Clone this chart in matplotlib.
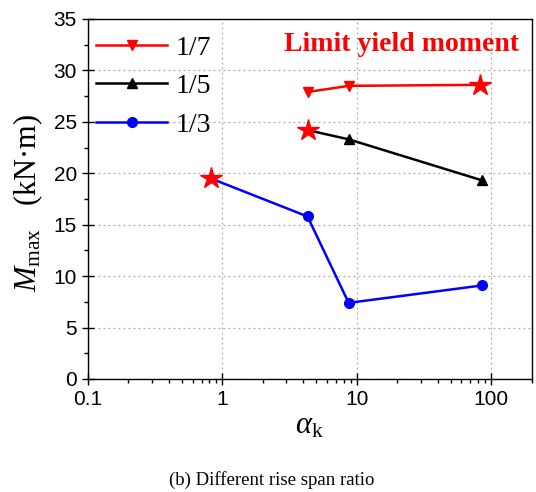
import matplotlib
matplotlib.use("Agg")
import matplotlib.pyplot as plt
from matplotlib.ticker import MultipleLocator, FixedLocator, NullFormatter

# Rise-span ratio series: alpha_k vs maximum moment
labels = ["1/7", "1/5", "1/3"]
colors = ["#ff0000", "#000000", "#0000ff"]
markers = ["v", "^", "o"]

alpha_17 = [4.3, 8.7, 83]
m_17 = [27.9, 28.5, 28.6]

alpha_15 = [4.3, 8.7, 86]
m_15 = [24.2, 23.3, 19.3]

alpha_13 = [0.82, 4.3, 8.7, 86]
m_13 = [19.5, 15.8, 7.4, 9.1]

# index of the limit-yield point in each series
limit_idx = [2, 0, 0]

xs = [alpha_17, alpha_15, alpha_13]
ys = [m_17, m_15, m_13]

serif = "Liberation Serif"
plt.rcParams["mathtext.fontset"] = "custom"
plt.rcParams["mathtext.rm"] = serif
plt.rcParams["mathtext.it"] = serif + ":italic"

fig = plt.figure(figsize=(5.36, 4.92), dpi=100)
ax = fig.add_axes([0.164, 0.2297, 0.828, 0.7317])

for x, y, lab, c, mk, li in zip(xs, ys, labels, colors, markers, limit_idx):
    ax.plot(x, y, color=c, lw=1.8, zorder=3)
    mx = [v for i, v in enumerate(x) if i != li]
    my = [v for i, v in enumerate(y) if i != li]
    ax.plot(mx, my, ls="none", marker=mk, color=c, ms=7, zorder=4)
    ax.plot([], [], color=c, lw=1.8, marker=mk, ms=7, label=lab)
    ax.plot([x[li]], [y[li]], ls="none", marker="*", color="#ff0000",
            ms=16, mec="#ff0000", zorder=5)

ax.set_xscale("log")
ax.set_xlim(0.1, 200)
ax.set_ylim(0, 35)
ax.yaxis.set_major_locator(MultipleLocator(5))
ax.yaxis.set_minor_locator(MultipleLocator(2.5))
ax.xaxis.set_major_locator(FixedLocator([0.1, 1, 10, 100]))
ax.set_xticklabels(["0.1", "1", "10", "100"])
ax.xaxis.set_minor_formatter(NullFormatter())

ax.grid(True, which="major", ls=(0, (1.5, 2.5)), color="#aaaaaa", lw=0.9)
ax.set_axisbelow(True)

ax.tick_params(which="both", top=False, right=False,
               labelsize=15, labelfontfamily="Liberation Sans", pad=4)
ax.tick_params(which="major", direction="inout", length=8, width=1)
ax.tick_params(which="minor", direction="out", length=3, width=1)
for s in ax.spines.values():
    s.set_linewidth(1.0)

ax.set_ylabel(r"$M_{\mathrm{max}}$   (kN·m)", fontsize=22, family=serif)
ax.yaxis.set_label_coords(-0.097, 0.489)
ax.set_xlabel(r"$\alpha_{\mathrm{k}}$", fontsize=22, family=serif, labelpad=2)

leg = ax.legend(loc="upper left", bbox_to_anchor=(0.0, 0.978), frameon=False,
                prop={"family": serif, "size": 20},
                handlelength=2.55, handletextpad=0.32, labelspacing=0.47,
                borderaxespad=0.0, borderpad=0.3)

ax.text(0.971, 0.911, "Limit yield moment", transform=ax.transAxes, ha="right",
        va="baseline", color="#ff0000", fontsize=20, fontweight="bold", family=serif)

fig.text(0.507, 0.025, "(b) Different rise span ratio", ha="center", va="center",
         fontsize=13.5, family=serif)

fig.savefig("out.png", dpi=100)
